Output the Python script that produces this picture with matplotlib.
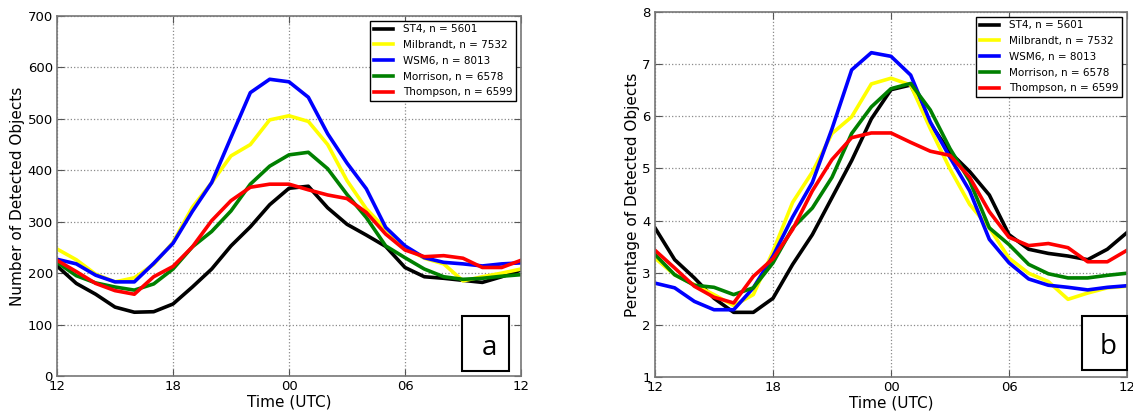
import matplotlib
matplotlib.use('Agg')
import matplotlib.pyplot as plt
from matplotlib.patches import Rectangle

# hours after 12 UTC, hourly from 12 UTC to 12 UTC next day
hours = list(range(25))
tick_hours = [0, 6, 12, 18, 24]
tick_labels = ['12', '18', '00', '06', '12']

labels = ['ST4, n = 5601', 'Milbrandt, n = 7532', 'WSM6, n = 8013',
          'Morrison, n = 6578', 'Thompson, n = 6599']
colors = ['black', 'yellow', 'blue', 'green', 'red']

# panel a: number of detected objects
st4_count = [214, 180, 159, 134, 124, 125, 140, 173, 208, 253, 290, 333, 365,
             369, 327, 295, 274, 252, 211, 193, 190, 186, 182, 193, 206]
milb_count = [247, 226, 198, 183, 191, 217, 260, 328, 376, 428, 450, 498, 506,
              495, 450, 380, 325, 286, 249, 229, 218, 185, 193, 200, 208]
wsm6_count = [227, 218, 196, 183, 183, 219, 258, 320, 376, 464, 551, 577, 572,
              542, 471, 414, 364, 289, 253, 230, 221, 218, 214, 218, 220]
morr_count = [221, 195, 181, 173, 167, 179, 208, 251, 281, 321, 373, 408, 430,
              435, 403, 353, 308, 253, 230, 208, 193, 188, 190, 194, 197]
thom_count = [225, 203, 180, 166, 159, 193, 213, 251, 302, 341, 367, 373, 373,
              362, 352, 345, 318, 276, 245, 232, 234, 229, 211, 211, 225]

# panel b: percentage of detected objects
st4_pct = [3.86, 3.25, 2.90, 2.51, 2.24, 2.24, 2.51, 3.16, 3.73, 4.44, 5.15, 5.95, 6.51,
           6.60, 5.86, 5.31, 4.94, 4.49, 3.73, 3.45, 3.37, 3.32, 3.25, 3.45, 3.77]
milb_pct = [3.28, 2.96, 2.77, 2.58, 2.37, 2.58, 3.41, 4.35, 4.93, 5.67, 5.99, 6.62, 6.73,
            6.60, 5.76, 4.99, 4.31, 3.86, 3.28, 2.99, 2.83, 2.49, 2.61, 2.71, 2.74]
wsm6_pct = [2.80, 2.71, 2.45, 2.29, 2.29, 2.71, 3.32, 4.07, 4.73, 5.76, 6.89, 7.22, 7.15,
            6.79, 5.89, 5.21, 4.57, 3.64, 3.19, 2.88, 2.76, 2.72, 2.67, 2.72, 2.75]
morr_pct = [3.35, 2.96, 2.76, 2.72, 2.58, 2.71, 3.19, 3.86, 4.24, 4.83, 5.67, 6.18, 6.53,
            6.63, 6.12, 5.38, 4.76, 3.86, 3.54, 3.16, 2.98, 2.90, 2.90, 2.95, 2.99]
thom_pct = [3.43, 3.09, 2.74, 2.53, 2.42, 2.93, 3.27, 3.83, 4.57, 5.17, 5.59, 5.68, 5.68,
            5.50, 5.33, 5.25, 4.83, 4.17, 3.68, 3.52, 3.56, 3.48, 3.21, 3.21, 3.43]

W, H = 1133, 412
fig = plt.figure(figsize=(W / 100, H / 100), dpi=100)
ax_a = fig.add_axes([57 / W, 1 - 376 / H, 464 / W, 360 / H])
ax_b = fig.add_axes([655 / W, 1 - 377 / H, 472 / W, 365 / H])


def draw_panel(ax, series, ylim, yticks, ylabel, letter, box):
    for vals, lab, col in zip(series, labels, colors):
        ax.plot(hours, vals, color=col, lw=2.6, label=lab)
    ax.set_xlim(0, 24)
    ax.set_ylim(*ylim)
    ax.set_xticks(tick_hours)
    ax.set_xticklabels(tick_labels)
    ax.set_yticks(yticks)
    ax.tick_params(direction='in', top=True, right=True, labelsize=9.5,
                   length=5, width=0.8, pad=3, color='#555555')
    ax.grid(True, linestyle=':', color='#8a8a8a', lw=0.9)
    ax.set_xlabel('Time (UTC)', fontsize=11, labelpad=1)
    ax.set_ylabel(ylabel, fontsize=11, labelpad=2)
    for s in ax.spines.values():
        s.set_color('#777777')
        s.set_linewidth(1.2)
    leg = ax.legend(loc='upper right', fontsize=7.5, fancybox=False,
                    handlelength=1.8, borderpad=0.35, labelspacing=0.55,
                    handletextpad=1.0, borderaxespad=0.45, framealpha=1)
    leg.get_frame().set_edgecolor('black')
    leg.get_frame().set_linewidth(1.0)
    x0, y0, x1, y1 = box
    ax.add_patch(Rectangle((x0, y0), x1 - x0, y1 - y0, transform=ax.transAxes,
                           facecolor='white', edgecolor='black', lw=1.5,
                           clip_on=False, zorder=5))
    ax.text((x0 + x1) / 2 + 0.008, (y0 + y1) / 2 - 0.012, letter,
            transform=ax.transAxes, ha='center', va='center', fontsize=20,
            family=['Open Sans', 'DejaVu Sans'], zorder=6)


draw_panel(ax_a, [st4_count, milb_count, wsm6_count, morr_count, thom_count],
           (0, 700), range(0, 701, 100), 'Number of Detected Objects', 'a',
           (0.873, 0.014, 0.974, 0.167))
draw_panel(ax_b, [st4_pct, milb_pct, wsm6_pct, morr_pct, thom_pct],
           (1, 8), range(1, 9), 'Percentage of Detected Objects', 'b',
           (0.905, 0.02, 1.0, 0.167))

fig.savefig('out.png', dpi=100, facecolor='white')
